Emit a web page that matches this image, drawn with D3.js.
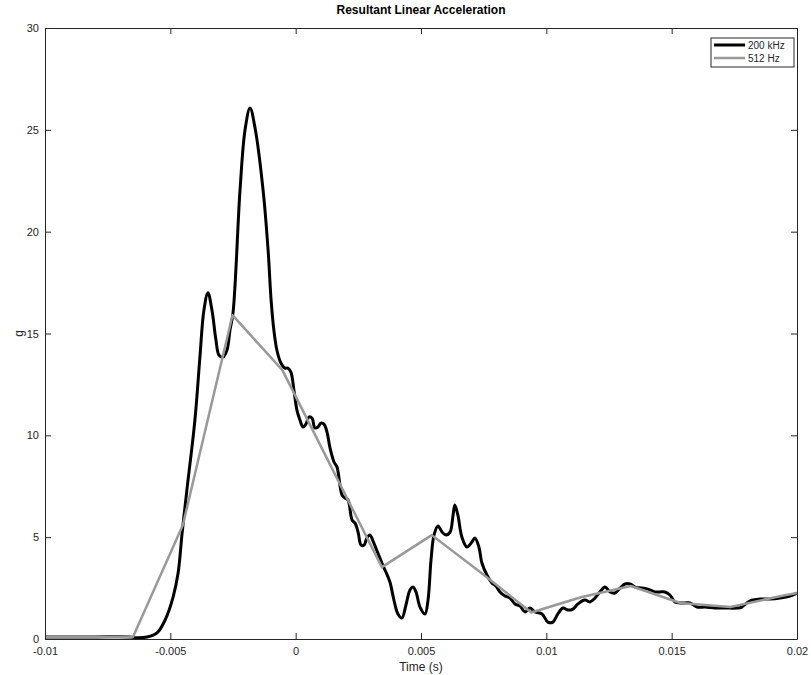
<!DOCTYPE html>
<html>
<head>
<meta charset="utf-8">
<script src="https://cdn.jsdelivr.net/npm/d3@7"></script>
<style>
  body { margin: 0; background: #fff; }
  svg { font-family: "Liberation Sans", Arial, sans-serif; }
</style>
</head>
<body>
<script>
// ----- DATA (time in ms, acceleration in g) -----
const hiResTimeMs = [-10, -8, -6.6, -6.33, -5.93, -5.53, -5.21, -4.89, -4.69, -4.53, -4.34, -4.02, -3.82, -3.66, -3.5, -3.34, -3.18, -3.06, -2.9, -2.74, -2.62, -2.5, -2.22, -2.02, -1.82, -1.62, -1.3, -1.1, -0.98, -0.87, -0.75, -0.59, -0.43, -0.31, -0.19, -0.07, 0.05, 0.17, 0.29, 0.41, 0.53, 0.65, 0.77, 0.89, 1.01, 1.13, 1.25, 1.37, 1.53, 1.65, 1.85, 1.97, 2.09, 2.25, 2.37, 2.49, 2.61, 2.73, 2.84, 2.96, 3.12, 3.28, 3.44, 3.6, 3.76, 3.92, 4.08, 4.24, 4.4, 4.56, 4.68, 4.8, 4.96, 5.16, 5.28, 5.4, 5.52, 5.68, 5.84, 6.0, 6.16, 6.28, 6.35, 6.47, 6.63, 6.83, 7.03, 7.15, 7.31, 7.43, 7.63, 7.83, 7.99, 8.15, 8.35, 8.55, 8.75, 8.95, 9.15, 9.35, 9.55, 9.83, 10.06, 10.26, 10.46, 10.66, 10.86, 11.06, 11.26, 11.54, 11.74, 11.94, 12.14, 12.34, 12.54, 12.74, 12.94, 13.14, 13.34, 13.54, 13.81, 14.05, 14.33, 14.53, 14.73, 14.93, 15.13, 15.33, 15.53, 15.73, 16.01, 16.33, 16.73, 17.13, 17.6, 17.8, 18.0, 18.2, 18.52, 18.92, 19.32, 19.72, 20.0];
const hiResG = [0.1, 0.1, 0.1, 0.06, 0.1, 0.3, 0.93, 2.06, 3.24, 5.2, 7.31, 10.75, 13.84, 16.15, 17.0, 16.15, 14.68, 13.94, 13.84, 14.19, 15.17, 16.0, 22.04, 24.99, 26.07, 25.09, 22.04, 19.1, 16.64, 15.17, 14.19, 13.55, 13.3, 13.3, 13.1, 12.22, 11.24, 10.75, 10.41, 10.55, 10.9, 10.85, 10.36, 10.41, 10.6, 10.55, 10.16, 9.38, 8.69, 8.44, 7.07, 6.92, 6.82, 5.84, 5.69, 5.25, 4.61, 4.61, 4.96, 5.11, 4.71, 4.22, 3.73, 3.29, 2.8, 1.91, 1.23, 1.03, 1.67, 2.41, 2.55, 2.31, 1.57, 1.23, 1.91, 3.88, 5.11, 5.55, 5.25, 5.11, 5.25, 6.09, 6.58, 6.09, 5.01, 4.52, 4.76, 4.96, 4.52, 3.73, 3.14, 2.75, 2.6, 2.31, 2.11, 2.01, 1.72, 1.62, 1.33, 1.52, 1.33, 1.23, 0.83, 0.83, 1.23, 1.52, 1.42, 1.47, 1.72, 1.91, 1.82, 2.01, 2.31, 2.55, 2.31, 2.26, 2.5, 2.7, 2.7, 2.55, 2.5, 2.45, 2.31, 2.31, 2.31, 2.16, 1.82, 1.77, 1.77, 1.77, 1.57, 1.57, 1.52, 1.52, 1.52, 1.57, 1.77, 1.91, 1.96, 1.96, 2.01, 2.11, 2.26];

const loResTimeMs = [-10, -8.48, -6.49, -4.5, -2.52, -0.53, 1.46, 3.44, 5.43, 7.41, 9.4, 11.38, 13.37, 15.35, 17.34, 19.32, 20];
const loResG = [0.1, 0.1, 0.1, 5.6, 15.9, 13.2, 8.35, 3.53, 5.1, 3.24, 1.3, 2.05, 2.6, 1.77, 1.57, 2.1, 2.26];

const xTicks = [-0.01, -0.005, 0, 0.005, 0.01, 0.015, 0.02];
const yTicks = [0, 5, 10, 15, 20, 25, 30];
const seriesNames = ["200 kHz", "512 Hz"];
const seriesColors = ["#000000", "#999999"];

// ----- LAYOUT -----
const w = 811, h = 675;
const pLeft = 45, pRight = 797, pTop = 28, pBottom = 639;
const axisColor = "#262626";

const svg = d3.select("body").append("svg")
  .attr("width", w)
  .attr("height", h);

const xScale = d3.scaleLinear().domain([-0.01, 0.02]).range([pLeft, pRight]);
const yScale = d3.scaleLinear().domain([0, 30]).range([pBottom, pTop]);

const hiRes = hiResTimeMs.map((t, i) => [t / 1000, hiResG[i]]);
const loRes = loResTimeMs.map((t, i) => [t / 1000, loResG[i]]);

svg.append("clipPath").attr("id", "plot-clip")
  .append("rect")
  .attr("x", pLeft).attr("y", pTop)
  .attr("width", pRight - pLeft).attr("height", pBottom - pTop);

const plot = svg.append("g").attr("clip-path", "url(#plot-clip)");

// smooth high-rate signal
plot.append("path")
  .datum(hiRes)
  .attr("fill", "none")
  .attr("stroke", seriesColors[0])
  .attr("stroke-width", 3)
  .attr("stroke-linejoin", "round")
  .attr("d", d3.line()
    .x(d => xScale(d[0]))
    .y(d => yScale(d[1]))
    .curve(d3.curveCatmullRom.alpha(0.5)));

// low-rate samples, straight segments
plot.append("path")
  .datum(loRes)
  .attr("fill", "none")
  .attr("stroke", seriesColors[1])
  .attr("stroke-width", 2.5)
  .attr("stroke-linejoin", "round")
  .attr("d", d3.line()
    .x(d => xScale(d[0]))
    .y(d => yScale(d[1])));

// ----- AXES (box with inward ticks on all sides) -----
const tickLen = 6;
const fmtX = d => d === 0 ? "0" : String(d);

function styleAxis(g) {
  g.select(".domain").attr("stroke", axisColor);
  g.selectAll(".tick line").attr("stroke", axisColor);
  g.selectAll(".tick text").attr("fill", axisColor).style("font-size", "11px");
}

svg.append("g")
  .attr("id", "x-axis")
  .attr("transform", "translate(0," + pBottom + ")")
  .call(d3.axisBottom(xScale).tickValues(xTicks).tickFormat(fmtX)
    .tickSizeInner(-tickLen).tickSizeOuter(0).tickPadding(8))
  .call(styleAxis);

svg.append("g")
  .attr("transform", "translate(0," + pTop + ")")
  .call(d3.axisTop(xScale).tickValues(xTicks).tickFormat("")
    .tickSizeInner(-tickLen).tickSizeOuter(0))
  .call(styleAxis);

svg.append("g")
  .attr("id", "y-axis")
  .attr("transform", "translate(" + pLeft + ",0)")
  .call(d3.axisLeft(yScale).tickValues(yTicks)
    .tickSizeInner(-tickLen).tickSizeOuter(0).tickPadding(6))
  .call(styleAxis);

svg.append("g")
  .attr("transform", "translate(" + pRight + ",0)")
  .call(d3.axisRight(yScale).tickValues(yTicks).tickFormat("")
    .tickSizeInner(-tickLen).tickSizeOuter(0))
  .call(styleAxis);

// ----- TITLES -----
svg.append("text")
  .attr("x", (pLeft + pRight) / 2)
  .attr("y", 14)
  .attr("text-anchor", "middle")
  .attr("fill", "#000")
  .style("font-size", "12px")
  .style("font-weight", "bold")
  .text("Resultant Linear Acceleration");

svg.append("text")
  .attr("x", (pLeft + pRight) / 2)
  .attr("y", 671)
  .attr("text-anchor", "middle")
  .attr("fill", axisColor)
  .style("font-size", "12px")
  .text("Time (s)");

svg.append("text")
  .attr("transform", "translate(23," + yScale(15) + ") rotate(-90)")
  .attr("text-anchor", "middle")
  .attr("fill", axisColor)
  .style("font-size", "12px")
  .text("g");

// ----- LEGEND -----
const legend = svg.append("g").attr("id", "legend")
  .attr("transform", "translate(711,38)");

legend.append("rect")
  .attr("width", 83).attr("height", 29)
  .attr("fill", "#fff")
  .attr("stroke", axisColor)
  .attr("stroke-width", 1);

seriesNames.forEach((name, i) => {
  const yy = 7 + i * 13;
  legend.append("line")
    .attr("x1", 3).attr("x2", 34)
    .attr("y1", yy).attr("y2", yy)
    .attr("stroke", seriesColors[i])
    .attr("stroke-width", i === 0 ? 3 : 2.5);
  legend.append("text")
    .attr("x", 37).attr("y", yy + 3.5)
    .attr("fill", axisColor)
    .style("font-size", "10px")
    .text(name);
});
</script>
</body>
</html>
